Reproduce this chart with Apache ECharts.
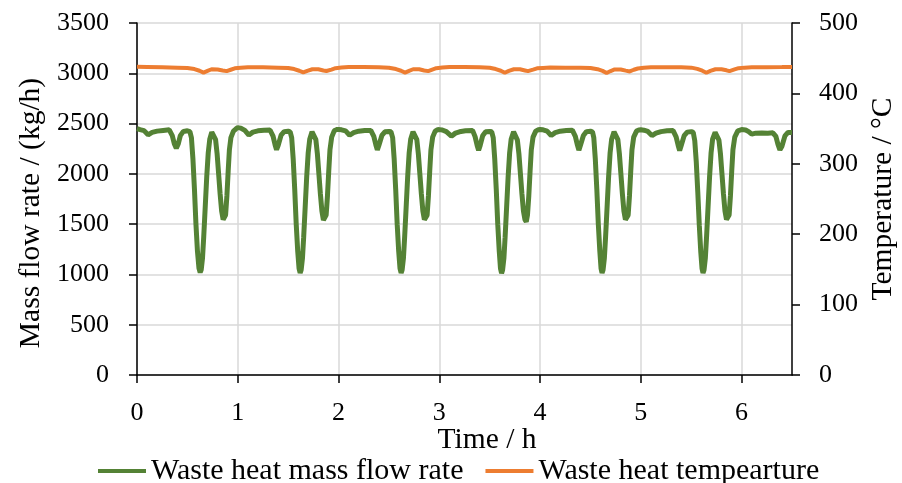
<!DOCTYPE html>
<html>
<head>
<meta charset="utf-8">
<script src="https://cdn.jsdelivr.net/npm/echarts@6/dist/echarts.min.js"></script>
<style>html,body{margin:0;padding:0;background:#fff;}#c{width:902px;height:483px;}</style>
</head>
<body>
<div id="c"></div>
<script>
// ---- data: [time (h), mass flow rate (kg/h)] ----
var flowH0 = [[0.00,2450],[0.03,2440],[0.07,2430],[0.11,2388],[0.15,2412],[0.20,2425],[0.26,2432],[0.32,2438],[0.35,2380],[0.37,2300],[0.39,2255],[0.41,2300],[0.43,2380],[0.46,2422],[0.50,2428],[0.525,2420],[0.54,2360],[0.555,2150],[0.57,1850],[0.585,1500],[0.60,1230],[0.615,1060],[0.627,1020],[0.637,1045],[0.65,1160],[0.662,1370],[0.677,1670],[0.692,1970],[0.707,2210],[0.722,2345],[0.742,2415],[0.76,2410],[0.78,2340],[0.795,2200],[0.81,2000],[0.825,1800],[0.84,1630],[0.855,1545],[0.867,1535],[0.879,1590],[0.892,1780],[0.905,2030],[0.917,2240],[0.932,2360],[0.957,2425],[0.98,2445]];
var flowH1 = [[1.00,2460],[1.03,2455],[1.07,2432],[1.11,2386],[1.15,2415],[1.20,2428],[1.26,2434],[1.32,2436],[1.35,2375],[1.37,2290],[1.385,2240],[1.40,2280],[1.43,2385],[1.46,2420],[1.50,2424],[1.52,2418],[1.535,2360],[1.55,2150],[1.565,1850],[1.58,1500],[1.595,1230],[1.608,1060],[1.619,1015],[1.629,1045],[1.642,1160],[1.654,1370],[1.669,1670],[1.684,1970],[1.699,2210],[1.714,2345],[1.737,2418],[1.755,2412],[1.775,2340],[1.79,2200],[1.805,2000],[1.82,1800],[1.835,1630],[1.85,1540],[1.864,1522],[1.877,1590],[1.89,1780],[1.903,2030],[1.915,2240],[1.932,2365],[1.957,2428],[1.98,2440]];
var flowH2 = [[2.00,2442],[2.03,2438],[2.07,2428],[2.11,2384],[2.15,2410],[2.20,2424],[2.26,2430],[2.32,2432],[2.35,2372],[2.37,2290],[2.385,2238],[2.40,2282],[2.43,2382],[2.46,2418],[2.50,2422],[2.52,2418],[2.537,2360],[2.552,2150],[2.567,1850],[2.582,1500],[2.597,1230],[2.61,1060],[2.621,1015],[2.631,1045],[2.644,1160],[2.656,1370],[2.671,1670],[2.686,1970],[2.701,2210],[2.716,2345],[2.739,2418],[2.757,2410],[2.777,2340],[2.792,2200],[2.807,2000],[2.822,1800],[2.837,1630],[2.852,1545],[2.866,1527],[2.879,1590],[2.892,1780],[2.905,2030],[2.917,2240],[2.934,2365],[2.959,2425],[2.98,2438]];
var flowH3 = [[3.00,2440],[3.03,2436],[3.07,2420],[3.12,2375],[3.16,2405],[3.20,2418],[3.26,2428],[3.33,2432],[3.355,2370],[3.375,2285],[3.39,2235],[3.405,2280],[3.43,2378],[3.46,2418],[3.50,2422],[3.52,2418],[3.535,2360],[3.55,2150],[3.565,1850],[3.58,1500],[3.595,1230],[3.607,1060],[3.618,1012],[3.628,1045],[3.641,1160],[3.653,1370],[3.668,1670],[3.683,1970],[3.698,2210],[3.713,2345],[3.737,2418],[3.755,2408],[3.775,2335],[3.79,2200],[3.805,2000],[3.82,1800],[3.835,1630],[3.85,1545],[3.863,1524],[3.875,1590],[3.888,1780],[3.901,2030],[3.913,2240],[3.93,2365],[3.957,2425],[3.98,2438]];
var flowH4 = [[4.00,2440],[4.03,2438],[4.07,2425],[4.11,2382],[4.15,2410],[4.20,2424],[4.26,2430],[4.32,2434],[4.35,2372],[4.37,2288],[4.385,2236],[4.40,2282],[4.43,2382],[4.46,2420],[4.50,2424],[4.52,2418],[4.533,2360],[4.548,2150],[4.563,1850],[4.578,1500],[4.593,1230],[4.605,1060],[4.615,1015],[4.625,1045],[4.638,1160],[4.65,1370],[4.665,1670],[4.68,1970],[4.695,2210],[4.71,2345],[4.734,2418],[4.752,2410],[4.772,2340],[4.787,2200],[4.802,2000],[4.817,1800],[4.832,1630],[4.847,1545],[4.861,1527],[4.874,1590],[4.887,1780],[4.90,2030],[4.912,2240],[4.929,2365],[4.957,2425],[4.98,2436]];
var flowH5 = [[5.00,2438],[5.03,2434],[5.07,2422],[5.11,2380],[5.15,2405],[5.20,2420],[5.26,2428],[5.32,2430],[5.35,2368],[5.37,2285],[5.385,2232],[5.40,2280],[5.43,2380],[5.46,2415],[5.50,2420],[5.52,2412],[5.535,2330],[5.55,2120],[5.565,1820],[5.58,1490],[5.595,1220],[5.607,1060],[5.617,1015],[5.627,1045],[5.64,1160],[5.652,1370],[5.667,1670],[5.682,1970],[5.697,2210],[5.712,2345],[5.737,2412],[5.755,2405],[5.775,2335],[5.79,2200],[5.805,2000],[5.82,1800],[5.835,1630],[5.85,1545],[5.863,1527],[5.876,1590],[5.889,1780],[5.902,2030],[5.914,2240],[5.932,2365],[5.962,2428],[5.98,2436]];
var flowH6 = [[6.00,2440],[6.04,2436],[6.07,2420],[6.10,2395],[6.14,2405],[6.20,2406],[6.26,2404],[6.31,2408],[6.34,2372],[6.36,2295],[6.38,2238],[6.40,2275],[6.43,2378],[6.46,2412],[6.50,2412]];

// ---- data: [time (h), temperature (°C)] ----
var tempH0 = [[0.00,437.8],[0.10,437.6],[0.25,437.2],[0.40,436.6],[0.50,436.0],[0.57,434.6],[0.62,432.2],[0.66,429.6],[0.70,432.0],[0.74,434.3],[0.80,434.0],[0.85,432.6],[0.89,431.6],[0.93,433.6],[0.97,435.6]];
var tempH1 = [[1.03,436.4],[1.10,437.2],[1.25,437.0],[1.40,436.6],[1.50,436.2],[1.56,434.6],[1.61,432.2],[1.65,429.8],[1.69,432.0],[1.74,434.3],[1.80,434.2],[1.85,432.6],[1.88,431.8],[1.93,433.8],[1.97,435.8]];
var tempH2 = [[2.03,436.8],[2.10,437.4],[2.25,437.4],[2.40,437.0],[2.50,436.4],[2.57,434.6],[2.62,432.2],[2.66,429.6],[2.70,432.0],[2.74,434.3],[2.80,434.2],[2.85,432.6],[2.89,431.6],[2.93,433.8],[2.97,435.8]];
var tempH3 = [[3.03,436.8],[3.10,437.4],[3.25,437.4],[3.40,437.0],[3.50,436.4],[3.56,434.6],[3.61,432.2],[3.65,429.4],[3.69,432.0],[3.74,434.3],[3.80,434.2],[3.85,432.6],[3.88,431.6],[3.93,433.8],[3.97,435.6]];
var tempH4 = [[4.03,436.2],[4.10,436.8],[4.25,436.6],[4.40,436.4],[4.50,436.0],[4.57,434.4],[4.62,432.0],[4.66,429.0],[4.70,431.8],[4.74,434.0],[4.80,434.0],[4.85,432.4],[4.89,431.2],[4.93,433.6],[4.97,435.4]];
var tempH5 = [[5.03,436.4],[5.10,437.0],[5.25,437.2],[5.40,437.0],[5.50,436.6],[5.56,434.8],[5.61,432.2],[5.65,429.4],[5.69,432.0],[5.74,434.3],[5.80,434.2],[5.85,432.8],[5.88,431.6],[5.93,434.0],[5.97,435.8]];
var tempH6 = [[6.03,436.6],[6.10,437.0],[6.25,437.2],[6.40,437.4],[6.50,437.6]];

var xTicks = [0,1,2,3,4,5,6];
var seriesNames = ['Waste heat mass flow rate', 'Waste heat tempearture'];

var flowData = [].concat(flowH0, flowH1, flowH2, flowH3, flowH4, flowH5, flowH6);
var tempData = [].concat(tempH0, tempH1, tempH2, tempH3, tempH4, tempH5, tempH6);

var FONT = '"Liberation Serif", serif';
var chart = echarts.init(document.getElementById('c'), null, {renderer: 'canvas'});
var axisLineStyle = {color: '#000', width: 1.5};
var gridColor = '#d9d9d9';
var plain = function (v) { return String(v); };
chart.setOption({
  animation: false,
  backgroundColor: '#fff',
  grid: {left: 137, right: 110, top: 23, bottom: 108, containLabel: false},
  xAxis: {
    type: 'value', min: 0, max: 6.5, interval: 1,
    axisLine: {show: true, lineStyle: axisLineStyle},
    axisTick: {show: true, length: 8, lineStyle: axisLineStyle, customValues: xTicks},
    axisLabel: {color: '#000', fontFamily: FONT, fontSize: 26, margin: 25, customValues: xTicks, formatter: plain},
    splitLine: {show: true, lineStyle: {color: gridColor, width: 1.5}}
  },
  yAxis: [{
    type: 'value', min: 0, max: 3500, interval: 500, position: 'left',
    axisLine: {show: true, lineStyle: axisLineStyle},
    axisTick: {show: true, length: 8, lineStyle: axisLineStyle},
    axisLabel: {color: '#000', fontFamily: FONT, fontSize: 26, margin: 28, formatter: plain},
    splitLine: {show: true, lineStyle: {color: gridColor, width: 1.5}}
  }, {
    type: 'value', min: 0, max: 500, interval: 100, position: 'right',
    axisLine: {show: true, lineStyle: axisLineStyle},
    axisTick: {show: true, length: 8, lineStyle: axisLineStyle},
    axisLabel: {color: '#000', fontFamily: FONT, fontSize: 26, margin: 27, formatter: plain},
    splitLine: {show: false}
  }],
  legend: {
    left: 93, top: 451, icon: 'rect', itemWidth: 48, itemHeight: 4, itemGap: 22,
    textStyle: {color: '#000', fontFamily: FONT, fontSize: 30},
    data: seriesNames
  },
  graphic: [
    {type: 'text', x: 31, y: 213, rotation: Math.PI/2,
     style: {text: 'Mass flow rate / (kg/h)', fontFamily: FONT, fontSize: 29.5, fill: '#000', align: 'center', verticalAlign: 'middle'}},
    {type: 'text', x: 883, y: 199, rotation: Math.PI/2,
     style: {text: 'Temperature / °C', fontFamily: FONT, fontSize: 29.5, fill: '#000', align: 'center', verticalAlign: 'middle'}},
    {type: 'text', x: 487, y: 440,
     style: {text: 'Time / h', fontFamily: FONT, fontSize: 29.5, fill: '#000', align: 'center', verticalAlign: 'middle'}}
  ],
  series: [{
    name: seriesNames[0], type: 'line', yAxisIndex: 0, showSymbol: false, symbol: 'none',
    lineStyle: {color: '#548235', width: 5}, itemStyle: {color: '#548235'},
    data: flowData, z: 3
  }, {
    name: seriesNames[1], type: 'line', yAxisIndex: 1, showSymbol: false, symbol: 'none',
    lineStyle: {color: '#ED7D31', width: 4}, itemStyle: {color: '#ED7D31'},
    data: tempData, z: 3
  }]
});
</script>
</body>
</html>
